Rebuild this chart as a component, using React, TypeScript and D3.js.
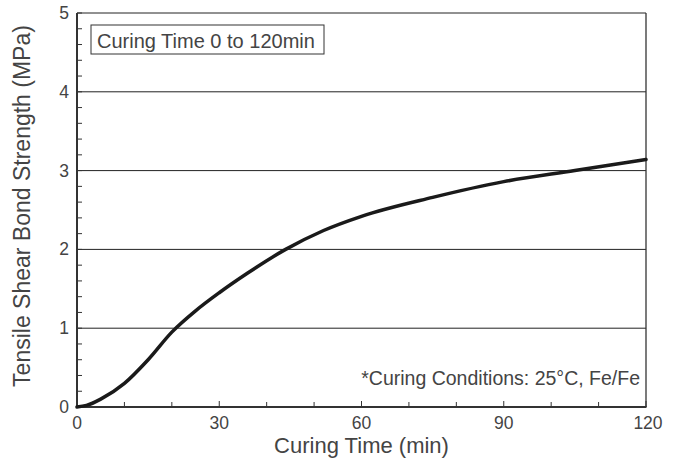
import React from 'react'
import * as d3 from 'd3'

// curing time (min) and tensile shear bond strength (MPa)
const times = [0, 2, 5, 10, 15, 20, 25, 30, 36, 44, 52, 60, 75, 90, 105, 120];
const strength = [0, 0.02, 0.1, 0.3, 0.6, 0.95, 1.22, 1.45, 1.7, 2.0, 2.24, 2.42, 2.66, 2.86, 3.0, 3.14];

const xTicks = [0, 30, 60, 90, 120];
const yTicks = [0, 1, 2, 3, 4, 5];
const xMinor = d3.range(0, 121, 10);
const yMinor = d3.range(0, 5.01, 0.2);

const width = 678;
const height = 463;
const margin = { left: 77, right: 32, top: 13, bottom: 56 };

const font = "'Liberation Sans', Arial, sans-serif";
const textColor = '#444';

const xScale = d3.scaleLinear()
  .domain([0, 120])
  .range([margin.left, width - margin.right]);

const yScale = d3.scaleLinear()
  .domain([0, 5])
  .range([height - margin.bottom, margin.top]);

const line = d3.line<number>()
  .x((_, i) => xScale(times[i]))
  .y(d => yScale(d))
  .curve(d3.curveMonotoneX);

const App = () => {
  const x0 = xScale(0);
  const x1 = xScale(120);
  const y0 = yScale(0);
  const y1 = yScale(5);
  return (
    <svg
      width={width}
      height={height}
      style={{ position: 'absolute', left: 0, top: 0, background: '#fff' }}
    >
      {/* grid lines */}
      {yTicks.filter(t => t > 0).map(t => (
        <line key={'g' + t} x1={x0} x2={x1} y1={yScale(t)} y2={yScale(t)}
          stroke='#222' strokeWidth={1} />
      ))}
      <line x1={x1} x2={x1} y1={y1} y2={y0} stroke='#333' strokeWidth={1.3} />

      {/* minor ticks */}
      {yMinor.map((t, i) => (
        <line key={'ym' + i} x1={x0} x2={x0 + 5} y1={yScale(t)} y2={yScale(t)}
          stroke='#333' strokeWidth={1} />
      ))}
      {xMinor.map(t => (
        <line key={'xm' + t} x1={xScale(t)} x2={xScale(t)} y1={y0}
          y2={y0 - (t % 30 === 0 ? 6 : 5)} stroke='#333' strokeWidth={1} />
      ))}

      {/* axes */}
      <line x1={x0} x2={x0} y1={y1} y2={y0 + 1} stroke='#333' strokeWidth={2} />
      <line x1={x0 - 1} x2={x1 + 0.5} y1={y0} y2={y0} stroke='#333' strokeWidth={2} />

      {/* data curve */}
      <path d={line(strength) ?? ''} fill='none' stroke='#1a1a1a' strokeWidth={3.5}
        strokeLinecap='round' />

      {/* tick labels */}
      {yTicks.map(t => (
        <text key={'yl' + t} x={x0 - 8} y={yScale(t) + 6} textAnchor='end'
          fontFamily={font} fontSize={17.5} fill={textColor}>{t}</text>
      ))}
      {xTicks.map(t => (
        <text key={'xl' + t} x={xScale(t) + (t === 120 ? 2 : 0)} y={y0 + 22} textAnchor='middle'
          fontFamily={font} fontSize={17.5} fill={textColor}>{t}</text>
      ))}

      {/* axis titles */}
      <text x={(x0 + x1) / 2} y={453} textAnchor='middle'
        fontFamily={font} fontSize={22} fill={textColor}>Curing Time (min)</text>
      <text transform={`translate(30, 206) rotate(-90)`} textAnchor='middle'
        fontFamily={font} fontSize={23} fill={textColor}>Tensile Shear Bond Strength (MPa)</text>

      {/* annotations */}
      <rect x={91} y={25} width={233} height={29} fill='#fff' stroke='#333' strokeWidth={1} />
      <text x={97} y={48} fontFamily={font} fontSize={20} fill={textColor}>Curing Time 0 to 120min</text>
      <text x={x1 - 6} y={385} textAnchor='end' fontFamily={font} fontSize={19.5}
        fill={textColor}>*Curing Conditions: 25°C, Fe/Fe</text>
    </svg>
  );
};

export default App;
